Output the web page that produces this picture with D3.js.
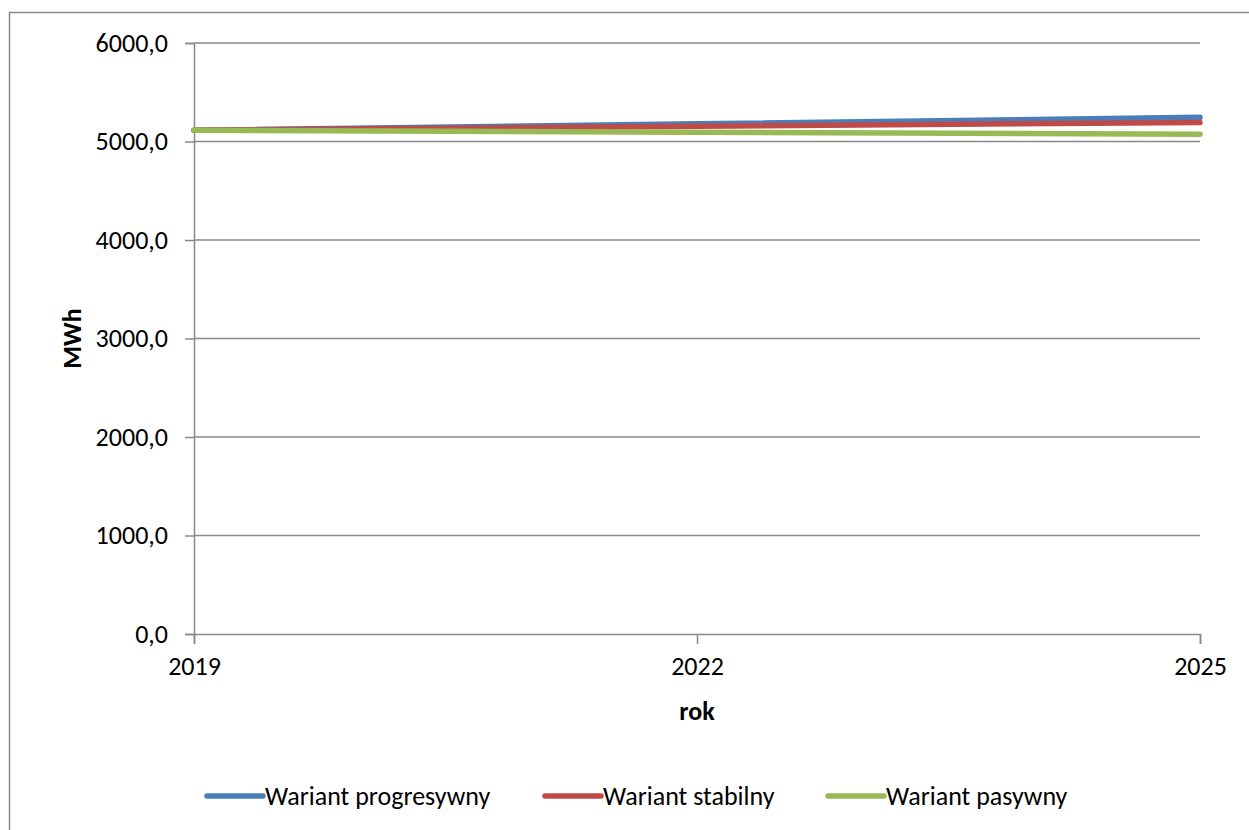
<!DOCTYPE html>
<html><head><meta charset="utf-8">
<script src="https://cdn.jsdelivr.net/npm/d3@7"></script>
<style>body{margin:0;background:#fff}svg{display:block}text{font-family:Carlito,Lato,sans-serif;fill:#000}</style>
</head><body><svg id="c" width="1249" height="830"></svg>
<script>
const years = [2019, 2022, 2025];
const seriesNames = ["Wariant progresywny", "Wariant stabilny", "Wariant pasywny"];
const progresywny = [5115, 5180, 5245];
const stabilny = [5115, 5155, 5193];
const pasywny = [5115, 5093, 5073];
const yTicks = [0, 1000, 2000, 3000, 4000, 5000, 6000];
const xTicks = [2019, 2022, 2025];
const colors = ["#4a7ebb", "#be4b48", "#98b954"];

const svg = d3.select("#c");
const gray = "#898989";
svg.append("rect").attr("x", 9.5).attr("y", 12.5).attr("width", 1260).attr("height", 840)
  .attr("fill", "none").attr("stroke", gray).attr("stroke-width", 1.5);

const L = 194, R = 1200, T = 43, B = 634;
const x = d3.scaleLinear().domain([2019, 2025]).range([L, R]);
const y = d3.scaleLinear().domain([0, 6000]).range([B, T]);

svg.append("g").selectAll("line").data(yTicks.filter(d => d > 0)).join("line")
  .attr("x1", L).attr("x2", R).attr("y1", d => y(d)).attr("y2", d => y(d))
  .attr("stroke", gray).attr("stroke-width", 1.5);

const fmt = d => d3.format(".1f")(d).replace(".", ",");
const ya = svg.append("g").attr("transform", `translate(${L},0)`)
  .call(d3.axisLeft(y).tickValues(yTicks).tickFormat(fmt).tickSize(9).tickPadding(17));
const xa = svg.append("g").attr("transform", `translate(0,${B})`)
  .call(d3.axisBottom(x).tickValues(xTicks).tickFormat(d3.format("d")).tickSize(10).tickPadding(13));
[ya, xa].forEach(a => {
  a.select(".domain").attr("stroke", gray).attr("stroke-width", 1.5);
  a.selectAll(".tick line").attr("stroke", gray).attr("stroke-width", 1.5);
  a.selectAll("text").attr("font-size", 26).attr("font-family", "Carlito,Lato,sans-serif").attr("fill", "#000");
});

const data = [progresywny, stabilny, pasywny];
const line = d3.line().x((d, i) => x(years[i])).y(d => y(d));
data.forEach((s, k) => {
  svg.append("path").datum(s).attr("d", line).attr("fill", "none")
    .attr("stroke", colors[k]).attr("stroke-width", 5.5).attr("stroke-linecap", "round");
});

svg.append("text").attr("transform", `translate(81,${(T + B) / 2}) rotate(-90)`)
  .attr("text-anchor", "middle").attr("font-size", 26).attr("font-weight", "bold").text("MWh");
svg.append("text").attr("x", (L + R) / 2).attr("y", 720).attr("text-anchor", "middle")
  .attr("font-size", 26).attr("font-weight", "bold").text("rok");

const legX = [207, 545, 828];
seriesNames.forEach((n, k) => {
  const g = svg.append("g").attr("transform", `translate(${legX[k]},796)`);
  g.append("line").attr("x1", 0).attr("x2", 56).attr("stroke", colors[k]).attr("stroke-width", 5.5).attr("stroke-linecap", "round");
  g.append("text").attr("x", 58).attr("y", 9).attr("font-size", 26).text(n);
});
</script></body></html>
